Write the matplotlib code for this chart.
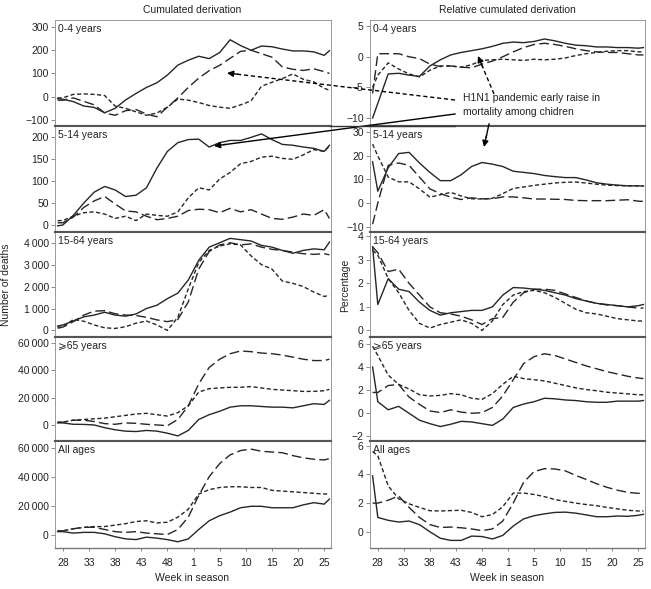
import numpy as np
import matplotlib
matplotlib.use('Agg')
import matplotlib.pyplot as plt
from matplotlib.lines import Line2D
from matplotlib.patches import FancyArrowPatch
from matplotlib.ticker import FuncFormatter

plt.rcParams['font.family'] = ['Liberation Sans', 'DejaVu Sans']
plt.rcParams['font.size'] = 7.5

# position of each reading inside the season (0 = week 28)
week_idx = [-1, 0] + list(range(2, 51, 2)) + [51]
tick_pos = [0, 5, 10, 15, 20, 25, 30, 35, 40, 45, 50]
tick_labels = ['28', '33', '38', '43', '48', '1', '5', '10', '15', '20', '25']

# ---- cumulated derivation (number of deaths)
cum_04_solid = [-8, -11, -21, -40, -46, -69, -50, -14, 14, 40, 60, 93, 136, 157, 174, 164, 190, 245, 220, 200, 218, 215, 205, 197, 197, 193, 178, 198]
cum_04_long = [-15, -15, -5, -20, -35, -70, -80, -60, -55, -75, -86, -45, -5, 40, 80, 112, 135, 165, 195, 200, 185, 170, 128, 118, 113, 120, 108, 100]
cum_04_short = [-5, -5, 10, 12, 10, 5, -40, -50, -65, -80, -70, -45, -10, -15, -25, -38, -45, -50, -35, -18, 45, 62, 78, 98, 75, 64, 36, 28]

cum_514_solid = [-2, 0, 22, 50, 75, 88, 80, 65, 68, 85, 130, 168, 188, 195, 196, 178, 188, 193, 193, 200, 208, 195, 184, 182, 178, 175, 168, 182]
cum_514_long = [5, 5, 18, 40, 55, 65, 48, 32, 30, 20, 12, 15, 20, 33, 36, 35, 28, 38, 30, 35, 25, 15, 13, 18, 25, 22, 35, 15]
cum_514_short = [10, 10, 20, 28, 30, 25, 15, 20, 10, 25, 22, 20, 30, 62, 85, 80, 105, 120, 140, 145, 155, 157, 152, 150, 160, 172, 168, 180]

cum_1564_solid = [200, 250, 430, 620, 700, 830, 700, 650, 750, 1000, 1150, 1450, 1700, 2300, 3200, 3800, 4000, 4200, 4140, 4080, 3880, 3800, 3650, 3520, 3650, 3720, 3680, 4030]
cum_1564_long = [150, 150, 400, 700, 880, 900, 760, 700, 680, 600, 480, 400, 500, 1300, 2800, 3600, 3900, 4000, 3900, 3950, 3800, 3700, 3650, 3570, 3500, 3470, 3500, 3450]
cum_1564_short = [100, 150, 500, 420, 250, 120, 90, 170, 330, 430, 250, 0, 600, 1900, 3100, 3650, 3850, 3950, 3900, 3400, 3000, 2800, 2250, 2150, 2000, 1750, 1550, 1600]

cum_65_solid = [1500, 1500, 500, 400, 0, -2000, -3500, -4500, -4800, -4000, -4500, -6000, -8000, -4000, 4000, 7500, 10000, 13000, 14000, 14000, 13500, 13000, 13000, 12500, 14000, 15500, 15000, 18000]
cum_65_long = [2000, 2000, 3500, 3500, 2500, 1000, 500, 1500, 1200, 500, 0, -500, 4000, 14000, 30000, 42000, 48000, 52000, 54000, 53500, 52500, 52000, 51000, 49500, 48000, 47000, 47000, 48000]
cum_65_short = [2000, 2000, 3500, 4000, 4500, 5000, 6000, 7000, 8000, 8500, 7500, 6500, 9000, 14000, 24000, 26500, 27000, 27500, 27500, 28000, 27000, 26000, 25500, 25000, 24500, 24500, 25000, 26000]

cum_all_solid = [2000, 2000, 1000, 1500, 1500, 500, -1500, -3000, -3500, -1800, -2500, -3500, -5000, -3000, 3500, 9500, 13000, 15500, 18500, 19500, 19500, 18500, 18500, 18500, 20500, 22000, 21000, 24500]
cum_all_long = [2500, 2500, 4000, 5000, 5000, 3500, 2000, 1500, 2000, 1000, 500, 0, 3500, 12000, 27000, 40000, 49000, 55000, 58000, 59000, 57500, 57000, 56500, 54500, 53000, 52000, 51500, 52500]
cum_all_short = [2500, 2500, 4000, 5000, 5500, 5500, 6500, 7500, 9000, 9500, 8000, 8500, 12000, 17500, 28000, 31000, 32500, 33000, 33000, 32500, 32500, 30500, 30000, 29500, 29000, 28500, 28000, 28000]

# ---- relative cumulated derivation (percentage)
rel_04_solid = [-10, -7.6, -2.8, -2.7, -3.0, -3.2, -1.5, -0.5, 0.3, 0.7, 1.0, 1.3, 1.7, 2.2, 2.4, 2.3, 2.5, 2.9, 2.6, 2.2, 1.9, 1.8, 1.6, 1.6, 1.5, 1.5, 1.4, 1.5]
rel_04_long = [-6, 0.5, 0.5, 0.5, 0.0, -0.3, -1.2, -1.6, -1.5, -1.7, -1.8, -1.2, -0.7, 0.0, 0.8, 1.5, 2.0, 2.2, 2.0, 1.7, 1.3, 1.0, 0.8, 0.7, 0.7, 0.5, 0.3, 0.3]
rel_04_short = [-5, -3, -1.0, -2.0, -2.8, -3.3, -2.2, -1.5, -1.5, -1.7, -1.3, -0.6, -0.5, -0.4, -0.5, -0.6, -0.4, -0.5, -0.4, -0.2, 0.2, 0.5, 0.7, 0.9, 1.0, 1.0, 0.8, 0.8]

rel_514_solid = [17.5, 5, 15, 21, 21.5, 17, 13, 9.5, 9.5, 12, 15.5, 17.2, 16.5, 15.5, 13.5, 13, 12.5, 11.7, 11.2, 10.8, 10.8, 9.8, 8.6, 8, 7.6, 7.3, 7.3, 7.2]
rel_514_long = [-9, 0, 16, 17, 16, 11, 6, 4, 2.5, 1.5, 2.2, 1.8, 1.8, 2.6, 2.6, 2.2, 1.7, 1.7, 1.6, 1.5, 1.1, 1.0, 1.0, 1.0, 1.2, 1.4, 0.8, 0.7]
rel_514_short = [25, 20, 11, 9, 9, 6, 2.5, 3.5, 4.5, 3, 1.8, 1.7, 2.0, 4.0, 6.2, 6.8, 7.5, 8.0, 8.5, 8.8, 8.9, 8.5, 8.0, 7.6, 7.4, 7.3, 7.3, 7.3]

rel_1564_solid = [3.55, 1.1, 2.2, 1.75, 1.65, 1.2, 0.85, 0.65, 0.75, 0.8, 0.85, 0.85, 1.0, 1.5, 1.82, 1.8, 1.75, 1.7, 1.6, 1.5, 1.35, 1.25, 1.15, 1.1, 1.05, 1.0, 1.05, 1.1]
rel_1564_long = [3.55, 3.3, 2.5, 2.6, 2.0, 1.5, 1.0, 0.75, 0.7, 0.6, 0.45, 0.25, 0.5, 0.55, 1.2, 1.6, 1.75, 1.75, 1.7, 1.55, 1.4, 1.25, 1.15, 1.08, 1.05, 1.0, 0.95, 0.95]
rel_1564_short = [3.4, 3.2, 2.2, 1.6, 0.85, 0.3, 0.1, 0.25, 0.35, 0.45, 0.3, 0.0, 0.4, 1.1, 1.5, 1.65, 1.7, 1.6, 1.4, 1.15, 0.9, 0.75, 0.7, 0.6, 0.5, 0.45, 0.4, 0.4]

rel_65_solid = [4.0, 1.0, 0.3, 0.6, 0.0, -0.6, -0.9, -1.15, -0.95, -0.7, -0.75, -0.9, -1.05, -0.5, 0.5, 0.8, 1.0, 1.3, 1.25, 1.15, 1.1, 1.0, 0.95, 0.95, 1.05, 1.05, 1.05, 1.1]
rel_65_long = [1.8, 1.8, 2.4, 2.5, 1.4, 0.77, 0.2, 0.06, 0.3, 0.1, 0.0, 0.05, 0.5, 1.5, 2.9, 4.3, 4.9, 5.15, 5.0, 4.7, 4.4, 4.1, 3.85, 3.6, 3.4, 3.2, 3.05, 3.0]
rel_65_short = [5.8, 5.0, 3.3, 2.5, 2.1, 1.6, 1.5, 1.55, 1.7, 1.6, 1.3, 1.2, 1.7, 2.5, 3.2, 3.0, 2.9, 2.8, 2.6, 2.4, 2.2, 2.05, 1.95, 1.82, 1.75, 1.68, 1.6, 1.6]

rel_all_solid = [3.9, 1.0, 0.8, 0.68, 0.75, 0.5, 0.0, -0.45, -0.6, -0.6, -0.3, -0.33, -0.5, -0.25, 0.4, 0.9, 1.12, 1.25, 1.35, 1.37, 1.3, 1.18, 1.05, 1.05, 1.1, 1.08, 1.15, 1.22]
rel_all_long = [2.0, 2.0, 2.2, 2.5, 1.7, 1.0, 0.5, 0.3, 0.33, 0.28, 0.2, 0.08, 0.2, 0.75, 2.0, 3.45, 4.2, 4.4, 4.38, 4.25, 3.93, 3.65, 3.35, 3.1, 2.9, 2.75, 2.68, 2.7]
rel_all_short = [5.6, 5.3, 3.2, 2.3, 1.95, 1.7, 1.47, 1.45, 1.48, 1.5, 1.35, 1.05, 1.2, 1.75, 2.7, 2.7, 2.6, 2.45, 2.25, 2.12, 2.0, 1.9, 1.82, 1.7, 1.6, 1.5, 1.45, 1.45]

age_labels = ['0-4 years', '5-14 years', '15-64 years', '\u2a7e65 years', 'All ages']

left_panels = [
    (cum_04_solid, cum_04_short, cum_04_long, [-100, 0, 100, 200, 300]),
    (cum_514_solid, cum_514_short, cum_514_long, [0, 50, 100, 150, 200]),
    (cum_1564_solid, cum_1564_short, cum_1564_long, [0, 1000, 2000, 3000, 4000]),
    (cum_65_solid, cum_65_short, cum_65_long, [0, 20000, 40000, 60000]),
    (cum_all_solid, cum_all_short, cum_all_long, [0, 20000, 40000, 60000]),
]
right_panels = [
    (rel_04_solid, rel_04_short, rel_04_long, [-10, -5, 0, 5]),
    (rel_514_solid, rel_514_short, rel_514_long, [-10, 0, 10, 20, 30]),
    (rel_1564_solid, rel_1564_short, rel_1564_long, [0, 1, 2, 3, 4]),
    (rel_65_solid, rel_65_short, rel_65_long, [-2, 0, 2, 4, 6]),
    (rel_all_solid, rel_all_short, rel_all_long, [0, 2, 4, 6]),
]
left_ylims = [(-126, 330), (-16, 226), (-300, 4490), (-11700, 64200), (-9300, 64600)]
right_ylims = [(-11.3, 6.0), (-12.3, 32.7), (-0.28, 4.18), (-2.4, 6.6), (-1.13, 6.33)]

W, H = 651, 589
fig = plt.figure(figsize=(W / 100, H / 100), dpi=100)


def fx(px):
    return px / W


def fy(py):
    return 1 - py / H


def fmt(v, pos):
    s = f'{v:,.0f}'.replace(',', '\u2009')
    return s.replace('-', '\u2212')


row_tops = [20, 126, 232, 337, 441, 548]
line_col = '#262626'
styles = ['-', (0, (3, 1.8)), (0, (7, 3))]

for col, (panels, ylims, x0, x1) in enumerate([(left_panels, left_ylims, 55, 331),
                                               (right_panels, right_ylims, 370, 645)]):
    for r in range(5):
        top, bot = row_tops[r], row_tops[r + 1]
        ax = fig.add_axes([fx(x0), fy(bot), (x1 - x0) / W, (bot - top) / H])
        solid, short, long_, yt = panels[r]
        for ser, ls in zip([solid, short, long_], styles):
            ax.plot(week_idx, ser, color=line_col, lw=1.0, linestyle=ls)
        ax.set_xlim(-1.5, 51.3)
        ax.set_ylim(*ylims[r])
        ax.set_yticks(yt)
        ax.yaxis.set_major_formatter(FuncFormatter(fmt))
        ax.tick_params(axis='y', direction='out', length=3, width=0.6, color='#777',
                       labelcolor='#222', pad=1.5, labelsize=7.5)
        if r == 4:
            ax.set_xticks(tick_pos)
            ax.set_xticklabels(tick_labels)
            ax.tick_params(axis='x', direction='out', length=2, width=0.6, color='#777',
                           labelcolor='#222', pad=5, labelsize=7.5)
        else:
            ax.set_xticks([])
        for side in ['left', 'right']:
            ax.spines[side].set_color('#999')
            ax.spines[side].set_linewidth(0.7)
        for side in ['top', 'bottom']:
            ax.spines[side].set_color('#555')
            ax.spines[side].set_linewidth(1.5)
        if r == 0:
            ax.spines['top'].set_color('#999')
            ax.spines['top'].set_linewidth(0.7)
        if r == 4:
            ax.spines['bottom'].set_color('#777')
            ax.spines['bottom'].set_linewidth(1.0)
        ax.text(0.012, 0.96, age_labels[r], transform=ax.transAxes, ha='left', va='top',
                fontsize=7.5, color='#222')

fig.text(fx(192), fy(10), 'Cumulated derivation', ha='center', va='center', fontsize=7.5, color='#222')
fig.text(fx(507), fy(10), 'Relative cumulated derivation', ha='center', va='center', fontsize=7.5, color='#222')
fig.text(fx(192), fy(578), 'Week in season', ha='center', va='center', fontsize=7.5, color='#222')
fig.text(fx(507), fy(578), 'Week in season', ha='center', va='center', fontsize=7.5, color='#222')
fig.text(fx(6), fy(285), 'Number of deaths', rotation=90, ha='center', va='center', fontsize=7.5, color='#222')
fig.text(fx(345), fy(285), 'Percentage', rotation=90, ha='center', va='center', fontsize=7.5, color='#222')

fig.text(fx(463), fy(105), 'H1N1 pandemic early raise in\nmortality among chidren', ha='left',
         va='center', fontsize=7.5, color='#222', linespacing=1.45)


def arrow(p0, p1, dashed):
    p0 = np.array(p0, float)
    p1 = np.array(p1, float)
    d = p1 - p0
    d = d / np.hypot(*d)
    mid = p1 - d * 10
    ls = (0, (3, 2)) if dashed else '-'
    fig.add_artist(Line2D([fx(p0[0]), fx(mid[0])], [fy(p0[1]), fy(mid[1])], transform=fig.transFigure,
                          color='black', lw=1.0, linestyle=ls))
    fig.add_artist(FancyArrowPatch((fx(mid[0] - d[0] * 2), fy(mid[1] - d[1] * 2)), (fx(p1[0]), fy(p1[1])),
                                   transform=fig.transFigure, arrowstyle='-|>', mutation_scale=9,
                                   lw=1.0, color='black', shrinkA=0, shrinkB=0))


arrow((455, 100), (227, 73), True)
arrow((455, 114), (214, 146), False)
arrow((494, 94), (478, 56), True)
arrow((489, 124), (484, 147), False)
fig.add_artist(Line2D([fx(330), fx(455)], [fy(126), fy(126)], transform=fig.transFigure, color='#333', lw=1.0))

fig.savefig('out.png', dpi=100)
